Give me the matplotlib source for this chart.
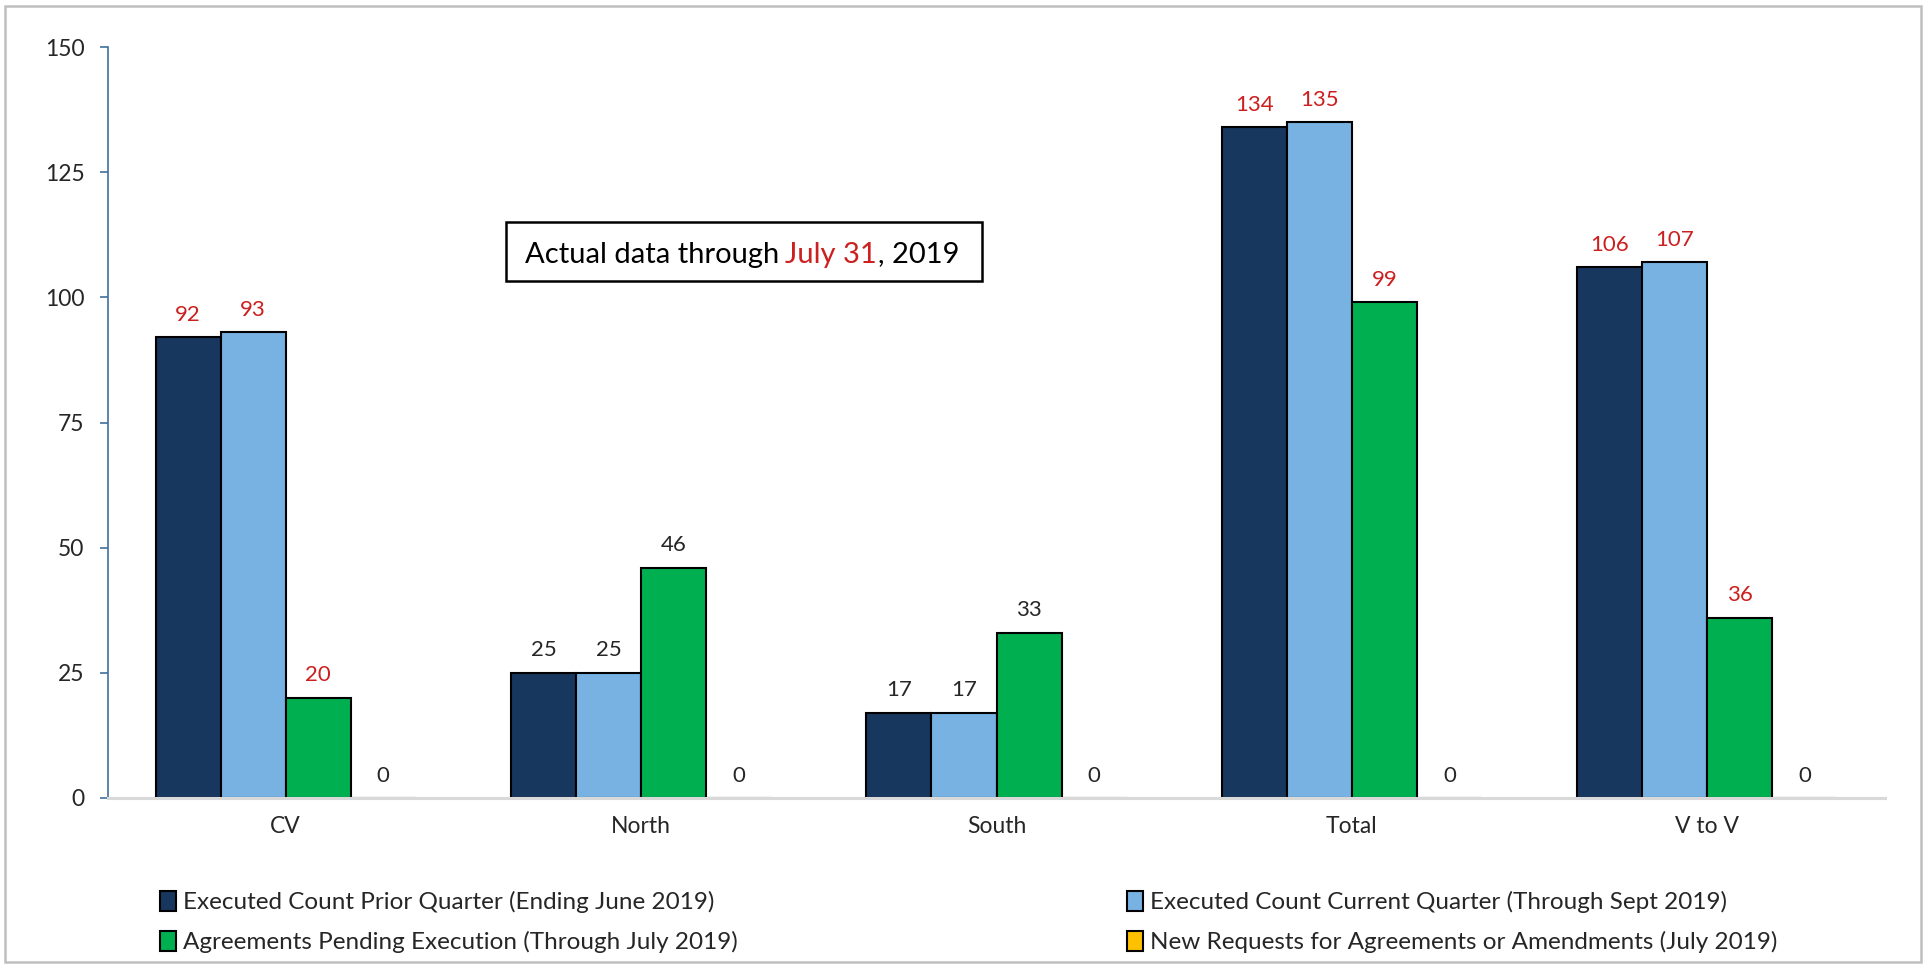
import matplotlib
matplotlib.use("Agg")
import matplotlib.pyplot as plt
from matplotlib.patches import Rectangle, Patch
import numpy as np

plt.rcParams['font.family'] = ['Lato', 'DejaVu Sans']

categories = ["CV", "North", "South", "Total", "V to V"]
series_names = [
    "Executed Count Prior Quarter (Ending June 2019)",
    "Executed Count Current Quarter (Through Sept 2019)",
    "Agreements Pending Execution (Through July 2019)",
    "New Requests for Agreements or Amendments (July 2019)",
]
prior_quarter = [92, 25, 17, 134, 106]
current_quarter = [93, 25, 17, 135, 107]
pending = [20, 46, 33, 99, 36]
new_requests = [0, 0, 0, 0, 0]
yticks = [0, 25, 50, 75, 100, 125, 150]

series = [prior_quarter, current_quarter, pending, new_requests]
colors = ["#17375E", "#77B2E3", "#00B050", "#FFC000"]
red = "#CC1F1F"
dark = "#262626"
# categories whose non-zero labels are shown in red
red_cats = {"CV", "Total", "V to V"}

W, H = 1925, 964
fig = plt.figure(figsize=(W / 100, H / 100), dpi=100)
ax = fig.add_axes([108 / W, 1 - 798 / H, (1885 - 108) / W, (798 - 47) / H])

x = np.arange(len(categories))
bw = 0.183
for i, (vals, col) in enumerate(zip(series, colors)):
    pos = x + (i - 1.5) * bw
    ax.bar(pos, vals, width=bw, color=col, edgecolor="black",
           linewidth=1.5, label=series_names[i], zorder=3)
    for p, v, cat in zip(pos, vals, categories):
        c = red if (cat in red_cats and v != 0) else dark
        ax.annotate(str(v), (p, v), xytext=(0, 9), textcoords="offset points",
                    ha="center", va="bottom", fontsize=16, color=c)

ax.set_xlim(-0.5, len(categories) - 0.5)
ax.set_ylim(0, 150)
ax.set_yticks(yticks)
ax.set_xticks(x)
ax.set_xticklabels(categories)
ax.tick_params(axis="x", length=0, pad=13, labelsize=16.5, labelcolor=dark)
ax.tick_params(axis="y", length=6, width=1.2, color="#41719C", pad=11,
               labelsize=16.5, labelcolor=dark)
for s in ["top", "right"]:
    ax.spines[s].set_visible(False)
ax.spines["left"].set_color("#41719C")
ax.spines["left"].set_linewidth(1.2)
ax.spines["bottom"].set_color("#D9D9D9")
ax.spines["bottom"].set_linewidth(2.2)
ax.spines["bottom"].set_zorder(4)

# annotation box
fig.patches.append(Rectangle((506 / W, 1 - 281 / H), 476 / W, 59 / H,
                             transform=fig.transFigure, facecolor="white",
                             edgecolor="black", linewidth=1.8))
fs_box = 21
t1 = fig.text(525 / W, 1 - 252 / H, "Actual data through", fontsize=fs_box,
              color="black", ha="left", va="center_baseline")
t2 = fig.text(0, 0, "July 31", fontsize=fs_box, color=red)
t3 = fig.text(0, 0, ", 2019", fontsize=fs_box, color="black")
fig.canvas.draw()
r = fig.canvas.get_renderer()
bb1 = t1.get_window_extent(r)
x0, y0 = t1.get_transform().transform(t1.get_position())
space = 6
t2.set_position((bb1.x1 + space, y0))
t2.set_transform(None)
t2.set_va("center_baseline")
fig.canvas.draw()
bb2 = t2.get_window_extent(r)
t3.set_position((bb2.x1 + 1, y0))
t3.set_transform(None)
t3.set_va("center_baseline")

# legend
handles = [Patch(facecolor=c, edgecolor="black", linewidth=1.5) for c in colors]
order = [0, 2, 1, 3]
fig.legend([handles[i] for i in order], [series_names[i] for i in order],
           ncol=2, loc="upper left", bbox_to_anchor=(160 / W, 1 - 891 / H),
           frameon=False, fontsize=17.5, handlelength=0.65, handleheight=0.9,
           handletextpad=0.3, columnspacing=16.0, labelspacing=0.72,
           borderpad=0, borderaxespad=0, labelcolor=dark)

# outer frame
fig.patches.append(Rectangle((5 / W, 2 / H), (1921 - 5) / W, (960 - 4) / H,
                             transform=fig.transFigure, fill=False,
                             edgecolor="#BFBFBF", linewidth=1.8))

fig.savefig("out.png", dpi=100)
